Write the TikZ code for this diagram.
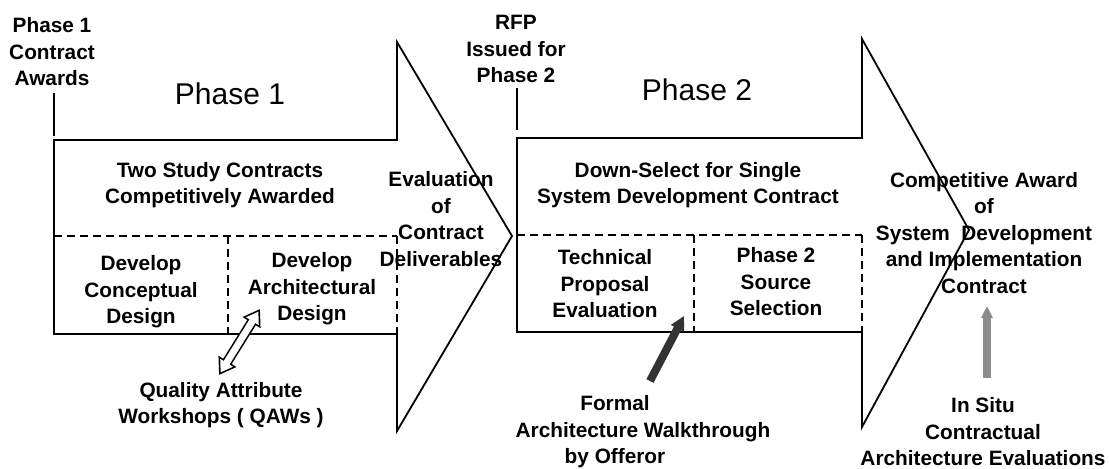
\documentclass[tikz,border=0pt]{standalone}
\usepackage{fontspec}
\setmainfont{Liberation Sans}
\usepackage{tikz}
\usetikzlibrary{arrows.meta, positioning}
\tikzset{>=stealth}
\tikzset{
  note/.style={font=\fontsize{10.4}{13.25}\selectfont\bfseries, align=center, inner sep=0pt},
  bigtitle/.style={font=\fontsize{15}{18}\selectfont, inner sep=0pt},
  outline/.style={line width=0.9pt},
  divider/.style={line width=0.8pt, dash pattern=on 4pt off 2.5pt},
  hollowout/.style={line width=5pt, {Triangle[length=8pt,width=10pt]}-{Triangle[length=8pt,width=10pt]}},
  hollowin/.style={white, line width=3.4pt, shorten <=1.5pt, shorten >=1.5pt, {Triangle[length=5.7pt,width=7.1pt]}-{Triangle[length=5.7pt,width=7.1pt]}},
  walkarrow/.style={black!80, line width=4pt, -{Triangle[length=7pt,width=7pt]}},
  situarrow/.style={black!45, line width=4pt, -{Triangle[length=6pt,width=5.5pt]}}
}

\begin{document}
\begin{tikzpicture}[x=0.5pt, y=-0.5pt]
\useasboundingbox (0,0) rectangle (1109,469);

\node[note] (awards) at (52,52) {Phase 1\\Contract\\Awards};
\node[note] (rfp) at (516,49) {RFP\\Issued for\\Phase 2};
\draw[outline] (54,93) -- (54,136);
\draw[outline] (517,88) -- (517,130);

\draw[outline] (54,140) -- (397,140) -- (397,42) -- (512,236) -- (397,431) -- (397,334) -- (54,334) -- cycle;
\draw[divider] (54,236) -- (397,236) (228,236) -- (228,334) (397,236) -- (397,334);
\draw[outline] (517,138) -- (862,138) -- (862,39) -- (969,230) -- (862,427) -- (862,332) -- (517,332) -- cycle;
\draw[divider] (517,235) -- (862,235) (694,235) -- (694,332) (862,235) -- (862,332);

\node[bigtitle] (phaseone) at (230,94) {Phase 1};
\node[bigtitle] (phasetwo) at (697,90) {Phase 2};

\node[note] (studies) at (220,185) {Two Study Contracts\\Competitively Awarded};
\node[note] (concept) at (141,292) {Develop\\Conceptual\\Design};
\node[note] (archdes) at (312,289) {Develop\\Architectural\\Design};
\node[note] (evalc) at (441,219) {Evaluation\\of\\Contract\\Deliverables};

\node[note] (downsel) at (688,185) {Down-Select for Single\\System Development Contract};
\node[note] (techprop) at (605,284) {Technical\\Proposal\\Evaluation};
\node[note] (srcsel) at (776,282) {Phase 2\\Source\\Selection};
\node[note] (award) at (984,233) {Competitive Award\\of\\System\ \ Development\\and Implementation\\Contract};

\node[note] (qaw) at (221,405) {Quality Attribute\\Workshops ( QAWs )};
\node[note] (walk) at (615,432) {Formal\\\hspace*{28pt}Architecture Walkthrough\\by Offeror};
\node[note] (situ) at (983,432) {In Situ\\Contractual\\Architecture Evaluations};

\coordinate (qawtail) at (219,375);
\coordinate (qawtip) at (260,309);
\draw[hollowout] (qawtail) -- (qawtip);
\draw[hollowin] (qawtail) -- (qawtip);

\coordinate (walktail) at (650,381);
\coordinate (walktip) at (684,316);
\draw[walkarrow] (walktail) -- (walktip);

\coordinate (situtail) at (987,378);
\coordinate (situtip) at (987,306);
\draw[situarrow] (situtail) -- (situtip);

\end{tikzpicture}
\end{document}
